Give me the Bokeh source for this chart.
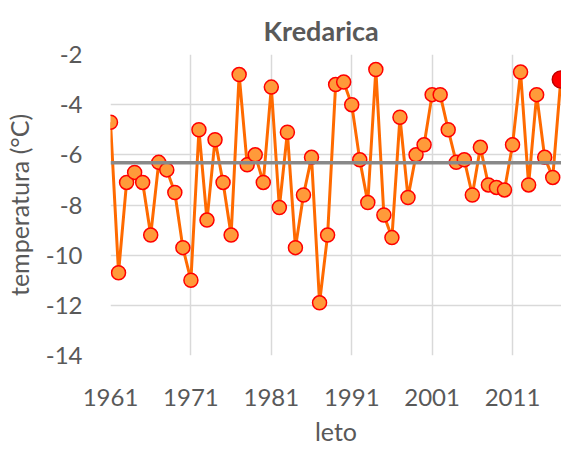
from bokeh.plotting import figure
from bokeh.models import FixedTicker
from bokeh.embed import file_html
from bokeh.resources import INLINE

# Data
years = list(range(1961, 2018))
temps = [
    -4.7, -10.7, -7.1, -6.7, -7.1, -9.2, -6.3, -6.6, -7.5, -9.7,
    -11.0, -5.0, -8.6, -5.4, -7.1, -9.2, -2.8, -6.4, -6.0, -7.1,
    -3.3, -8.1, -5.1, -9.7, -7.6, -6.1, -11.9, -9.2, -3.2, -3.1,
    -4.0, -6.2, -7.9, -2.6, -8.4, -9.3, -4.5, -7.7, -6.0, -5.6,
    -3.6, -3.6, -5.0, -6.3, -6.2, -7.6, -5.7, -7.2, -7.3, -7.4,
    -5.6, -2.7, -7.2, -3.6, -6.1, -6.9, -3.0,
]
mean_temp = -6.32
x_ticks = [1961, 1971, 1981, 1991, 2001, 2011]
y_ticks = [-14, -12, -10, -8, -6, -4, -2]

FONT = "Lato"
TXT = "#595959"

p = figure(
    width=561, height=449,
    x_range=(1961, 2017.09), y_range=(-14, -2),
    output_backend="svg", toolbar_location=None,
    min_border_left=105, min_border_right=0,
    min_border_top=54, min_border_bottom=94,
)
p.outline_line_color = None
p.background_fill_color = "white"
p.border_fill_color = "white"

p.title.text = "Kredarica"
p.title.text_font = FONT
p.title.text_font_size = "27px"
p.title.text_font_style = "bold"
p.title.text_color = TXT
p.title.align = "left"
p.title.offset = 153
p.title.standoff = 16

for ax in (p.xaxis[0], p.yaxis[0]):
    ax.axis_line_color = None
    ax.major_tick_line_color = None
    ax.minor_tick_line_color = None
    ax.major_tick_out = 0
    ax.major_tick_in = 0
    ax.minor_tick_out = 0
    ax.minor_tick_in = 0
    ax.major_label_text_font = FONT
    ax.major_label_text_font_size = "24px"
    ax.major_label_text_color = TXT
    ax.axis_label_text_font = FONT
    ax.axis_label_text_font_size = "25px"
    ax.axis_label_text_font_style = "normal"
    ax.axis_label_text_color = TXT

p.xaxis.ticker = FixedTicker(ticks=x_ticks)
p.yaxis.ticker = FixedTicker(ticks=y_ticks)
p.yaxis.major_label_overrides = {t: "%d" % t for t in y_ticks}
p.xaxis.axis_label = "leto"
p.yaxis.axis_label = "temperatura (°C)"
p.xaxis.major_label_standoff = 33
p.yaxis.major_label_standoff = 28
p.xaxis.axis_label_standoff = 7
p.yaxis.axis_label_standoff = 9

p.grid.grid_line_color = "#D9D9D9"
p.grid.grid_line_width = 1.5

p.line(years, temps, line_color="#FF6A00", line_width=3)
p.scatter(years[:-1], temps[:-1], size=14, fill_color="#FF9A3A",
          line_color="#FF0000", line_width=1.5)
p.scatter(years[-1:], temps[-1:], size=17, fill_color="#FF0000",
          line_color="#C00000", line_width=1.5)
p.line([years[0], years[-1] + 1], [mean_temp, mean_temp],
       line_color="#898989", line_width=3.5)

open("out.html", "w").write(file_html(p, INLINE))
